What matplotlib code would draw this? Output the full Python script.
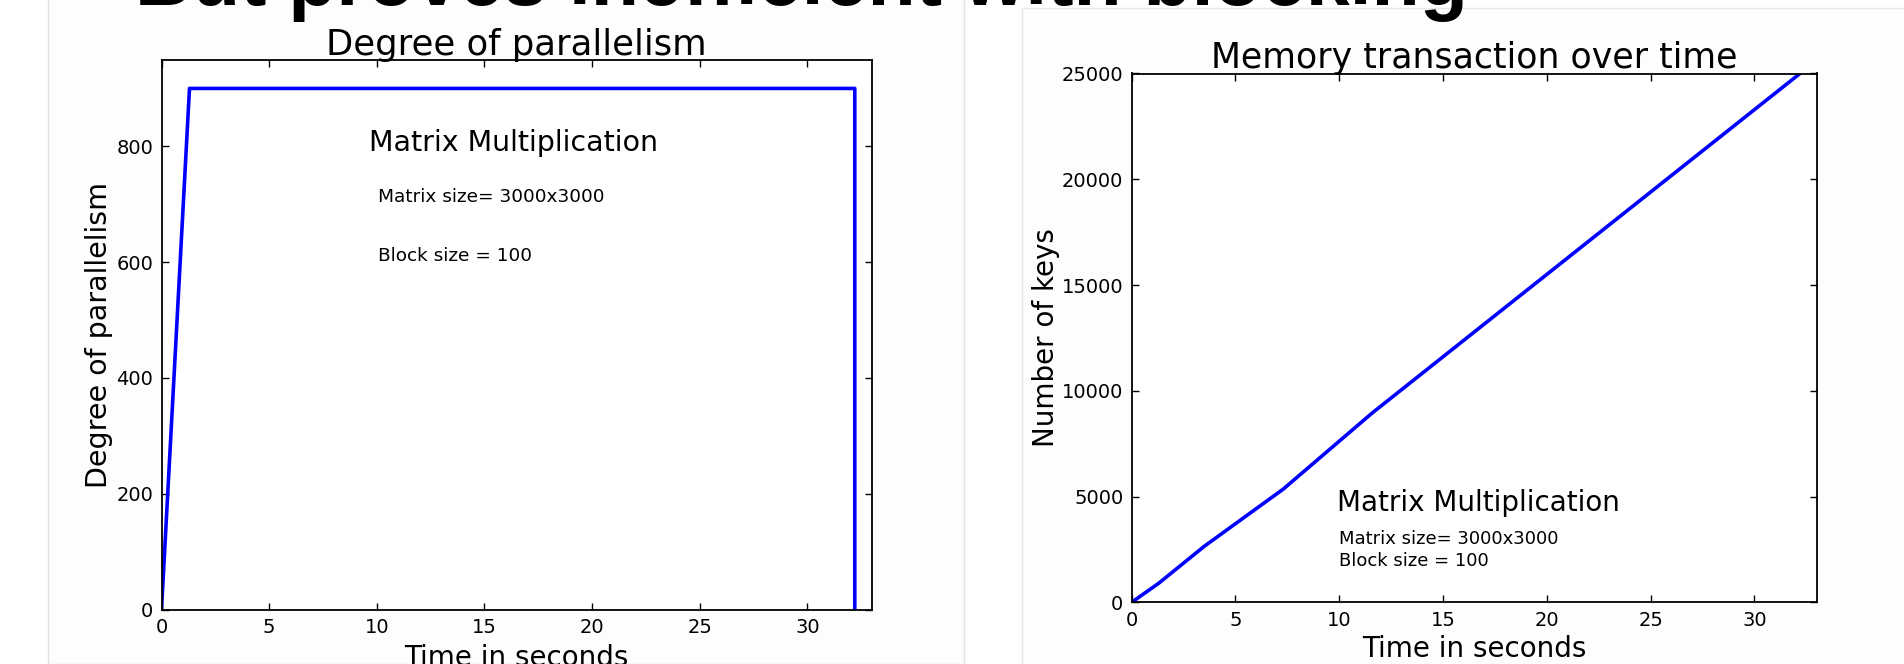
import matplotlib
matplotlib.use("Agg")
import matplotlib.pyplot as plt
from matplotlib.patches import Rectangle

# ---------------- data ----------------
par_time = [0.0, 1.3, 32.2, 32.2]
par_degree = [0, 900, 900, 0]

mem_time = [0.0, 1.3, 3.5, 7.3, 11.6, 32.2]
mem_keys = [0, 900, 2650, 5350, 8960, 25000]

x_ticks = [0, 5, 10, 15, 20, 25, 30]
par_y_ticks = [0, 200, 400, 600, 800]
mem_y_ticks = [0, 5000, 10000, 15000, 20000, 25000]

slide_title = "But proves inefficient with blocking"
left_title = "Degree of parallelism"
right_title = "Memory transaction over time"
x_label = "Time in seconds"
left_ylabel = "Degree of parallelism"
right_ylabel = "Number of keys"
note_title = "Matrix Multiplication"
note_size = "Matrix size= 3000x3000"
note_block = "Block size = 100"

# ---------------- figure ----------------
W, H = 1904, 664
fig = plt.figure(figsize=(W / 100, H / 100), dpi=100)
fig.patch.set_facecolor("white")
plt.rcParams['font.family'] = ['DejaVu Sans']


def px(x0, y0, x1, y1):
    """pixel box (top-left origin) -> figure fraction rect"""
    return [x0 / W, 1 - y1 / H, (x1 - x0) / W, (y1 - y0) / H]


# slide image boxes
fig.add_artist(Rectangle((48 / W, 0), (964 - 48) / W, 1.02, transform=fig.transFigure,
                         facecolor="#fdfdfd", edgecolor="#e2e2e2", lw=1.0, zorder=0))
fig.add_artist(Rectangle((1022 / W, -0.02), (W + 10 - 1022) / W, 1 - 8 / H + 0.02,
                         transform=fig.transFigure, facecolor="#fdfdfd",
                         edgecolor="#e6e6e6", lw=1.0, zorder=0))

blue = "#0000ff"


def style_axes(ax):
    ax.set_facecolor("white")
    for s in ax.spines.values():
        s.set_linewidth(1.3)
        s.set_color("black")
    ax.tick_params(direction="in", top=True, right=True, length=5, width=1,
                   labelsize=14, pad=6, colors="black")


# ---------------- left chart ----------------
ax1 = fig.add_axes(px(161.5, 59.5, 872, 609.5))
ax1.plot(par_time, par_degree, color=blue, lw=2.6)
ax1.set_xlim(0, 33)
ax1.set_ylim(0, 950)
ax1.set_xticks(x_ticks)
ax1.set_yticks(par_y_ticks)
style_axes(ax1)
ax1.set_title(left_title, fontsize=25.5, pad=3)
ax1.set_xlabel(x_label, fontsize=20, labelpad=5)
ax1.set_ylabel(left_ylabel, fontsize=20.5, labelpad=2.5)
ax1.text(9.66, 806, note_title, fontsize=20.5, va="center", ha="left")
ax1.text(10.06, 712, note_size, fontsize=13.3, va="center", ha="left")
ax1.text(10.06, 611, note_block, fontsize=13.3, va="center", ha="left")

# ---------------- right chart ----------------
ax2 = fig.add_axes(px(1131.7, 73.5, 1816.6, 602.3))
ax2.plot(mem_time, mem_keys, color=blue, lw=2.6)
ax2.set_xlim(0, 33)
ax2.set_ylim(0, 25000)
ax2.set_xticks(x_ticks)
ax2.set_yticks(mem_y_ticks)
style_axes(ax2)
ax2.set_title(right_title, fontsize=25, pad=4)
ax2.set_xlabel(x_label, fontsize=20, labelpad=4)
ax2.set_ylabel(right_ylabel, fontsize=20, labelpad=1)
ax2.text(9.89, 4709, note_title, fontsize=20, va="center", ha="left")
ax2.text(10.0, 2988, note_size, fontsize=13, va="center", ha="left")
ax2.text(10.0, 1953, note_block, fontsize=13, va="center", ha="left")

# ---------------- slide title (cut off at top) ----------------
fig.text(135 / W, 1 - 5 / H, slide_title, fontsize=56.8, fontweight="bold",
         family=["Liberation Sans", "DejaVu Sans"], va="baseline", ha="left",
         color="black", zorder=10)

fig.savefig("out.png", dpi=100, facecolor=fig.get_facecolor())
